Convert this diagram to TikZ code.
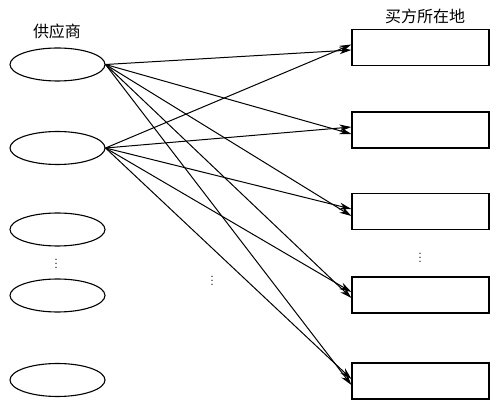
\documentclass[tikz,border=0pt]{standalone}
\usepackage{fontspec}
\newfontfamily\cjk{Noto Sans CJK SC}
\usetikzlibrary{shapes.geometric,arrows.meta}
\begin{document}
\begin{tikzpicture}[x=1pt,y=-1pt,
  sup/.style={draw,ellipse,line width=1.1pt,minimum width=95pt,minimum height=33pt,inner sep=0pt},
  buy/.style={draw,rectangle,line width=1.2pt,minimum width=137pt,minimum height=36pt,inner sep=0pt},
  lbl/.style={font=\cjk\fontsize{16}{18}\selectfont,inner sep=0pt},
  arr/.style={line width=1pt,-{Stealth[length=12pt,width=7pt]}},
  vd/.style={font=\fontsize{16}{16}\selectfont,inner sep=0pt}]
\useasboundingbox (0,0) rectangle (499,406);
\node[lbl] (ls) at (57,31) {供应商};
\node[lbl] (lb) at (425,16) {买方所在地};
\node[sup] (s1) at (57.5,64.5) {};
\node[sup] (s2) at (57.5,148) {};
\node[sup] (s3) at (57.5,229.5) {};
\node[sup] (s4) at (57.5,295.5) {};
\node[sup] (s5) at (57.5,380) {};
\node[buy] (b1) at (420.5,47.5) {};
\node[buy] (b2) at (420.5,130) {};
\node[buy] (b3) at (420.5,211.5) {};
\node[buy] (b4) at (420.5,295) {};
\node[buy] (b5) at (420.5,381) {};
\node[vd] (dl) at (56,261) {$\vdots$};
\node[vd] (dm) at (212,278) {$\vdots$};
\node[vd] (dr) at (420,255) {$\vdots$};
\foreach \i/\a/\b in {1/-2.5/3,2/-4/3,3/-4.5/2.5,4/-3/3,5/-4/2}{
  \draw[arr] (s1.east) -- ([yshift=\a pt]b\i.west);
  \draw[arr] (s2.east) -- ([yshift=\b pt]b\i.west);
}
\end{tikzpicture}
\end{document}
